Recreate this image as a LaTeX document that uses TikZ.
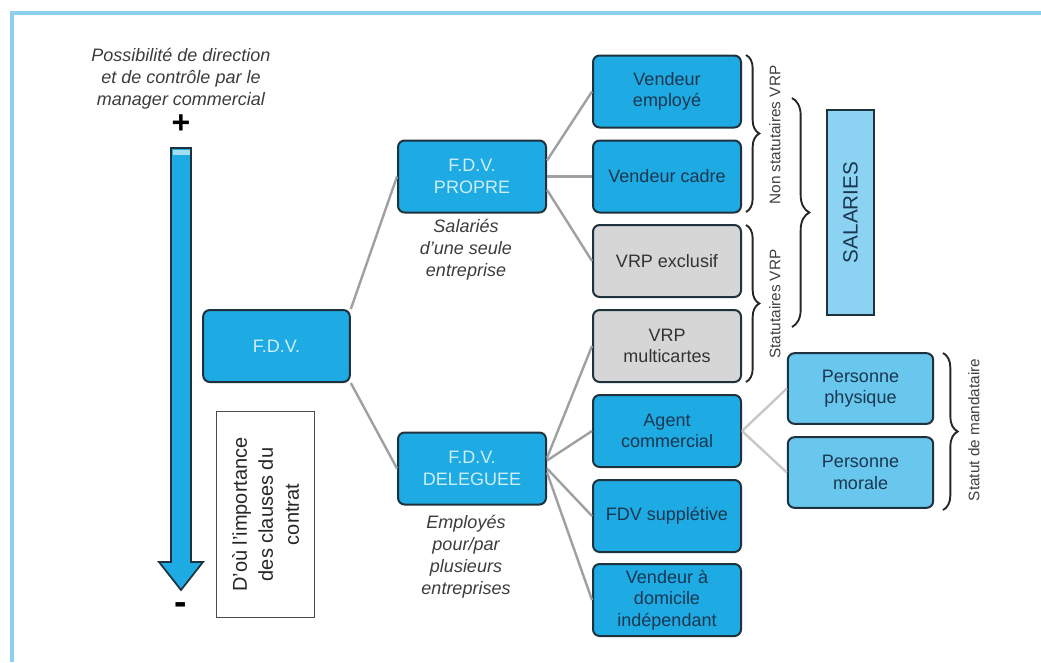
\documentclass[tikz,border=0pt]{standalone}
\usepackage{fontspec}
\setmainfont{Liberation Sans}
\usetikzlibrary{decorations.pathreplacing,calc}
\definecolor{bluebox}{RGB}{30,170,226}
\definecolor{lightbox}{RGB}{105,198,236}
\definecolor{graybox}{RGB}{214,214,214}
\definecolor{edgec}{RGB}{30,50,62}
\definecolor{conncol}{RGB}{160,160,160}
\definecolor{connlight}{RGB}{200,200,200}
\definecolor{salfill}{RGB}{140,210,242}
\definecolor{framec}{RGB}{140,207,238}
\definecolor{darktext}{RGB}{25,55,80}
\definecolor{lighttext}{RGB}{205,238,250}
\definecolor{itcol}{RGB}{60,60,60}
\tikzset{
  base/.style={draw=edgec, line width=1.5pt, rounded corners=5pt, minimum width=111pt, minimum height=54pt, inner sep=0pt, align=center, font=\fontsize{13.5}{16}\selectfont},
  fdvbox/.style={base, fill=bluebox, text=lighttext},
  bluenode/.style={base, fill=bluebox, text=darktext},
  greynode/.style={base, fill=graybox, text=black!80},
  persnode/.style={base, fill=lightbox, text=darktext, minimum width=109pt, minimum height=53pt},
  conn/.style={draw=conncol, line width=1.8pt},
  connl/.style={draw=connlight, line width=1.8pt},
  itlabel/.style={align=center, text=itcol, font=\fontsize{13.5}{16.5}\selectfont\itshape},
  brlabel/.style={rotate=90, text=black!75, font=\fontsize{11.5}{13}\selectfont},
  bracestyle/.style={draw=black!85, line width=1.4pt, decorate, decoration={brace, amplitude=#1}},
}
\begin{document}
\begin{tikzpicture}[x=0.75pt, y=-0.75pt]
\useasboundingbox (0,0) rectangle (1041,662);
\fill[white] (0,0) rectangle (1041,662);
% frame
\draw[draw=framec, line width=3pt] (10,13) -- (1041,13);
\draw[draw=framec, line width=3pt] (12,12) -- (12,662);

% top label and arrow
\node[itlabel] (toptext) at (181,79) {Possibilité de direction\\et de contrôle par le\\manager commercial};
\node[font=\fontsize{24}{24}\selectfont\bfseries, inner sep=0pt] (plus) at (181,124) {+};
\draw[draw=edgec, line width=1.3pt, fill=bluebox] (171,148) -- (191,148) -- (191,562) -- (203,562) -- (181,590) -- (159,562) -- (171,562) -- cycle;
\fill[white, opacity=0.6] (172.5,150) rectangle (189.5,155);
\node[font=\fontsize{28}{28}\selectfont\bfseries, inner sep=0pt] (minus) at (181,609) {-};

% nodes
\node[fdvbox, minimum width=110pt] (fdv) at (276.5,346) {F.D.V.};
\node[draw=black!70, line width=0.8pt, minimum width=74pt, minimum height=154pt, inner sep=0pt] (note) at (265.5,514.5) {};
\node[rotate=90, align=center, text=black!85, font=\fontsize{15}{19.5}\selectfont] (notetext) at (note.center) {D'où l'importance\\des clauses du\\contrat};

\node[fdvbox] (propre) at (472,176.5) {F.D.V.\\PROPRE};
\node[fdvbox] (deleguee) at (472,468.5) {F.D.V.\\DELEGUEE};
\node[itlabel] (proptext) at (466,250) {Salariés\\d'une seule\\entreprise};
\node[itlabel] (deltext) at (466,557) {Employés\\pour/par\\plusieurs\\entreprises};

\node[bluenode] (employe) at (667,91.5) {Vendeur\\employé};
\node[bluenode] (cadre) at (667,176.5) {Vendeur cadre};
\node[greynode] (exclusif) at (667,261) {VRP exclusif};
\node[greynode] (multi) at (667,346) {VRP\\multicartes};
\node[bluenode] (agent) at (667,431) {Agent\\commercial};
\node[bluenode] (suppl) at (667,516) {FDV supplétive};
\node[bluenode] (domicile) at (667,600) {Vendeur à\\domicile\\indépendant};

\node[persnode] (physique) at (860.5,388.5) {Personne\\physique};
\node[persnode] (morale) at (860.5,472.5) {Personne\\morale};

\node[draw=edgec, line width=1.2pt, fill=salfill, minimum width=35pt, minimum height=154pt, inner sep=0pt] (sal) at (850.5,212.5) {};
\node[rotate=90, text=darktext, font=\fontsize{15.5}{18}\selectfont] (saltext) at (sal.center) {SALARIES};

% connectors
\draw[conn] (fdv.north east) -- (propre.west);
\draw[conn] (fdv.south east) -- (deleguee.west);
\draw[conn] ([yshift=12pt]propre.east) -- (employe.west);
\draw[conn] (propre.east) -- (cadre.west);
\draw[conn] ([yshift=-10pt]propre.east) -- (exclusif.west);
\draw[conn] ([yshift=8pt]deleguee.east) -- (multi.west);
\draw[conn] ([yshift=6pt]deleguee.east) -- (agent.west);
\draw[conn] (deleguee.east) -- (suppl.west);
\draw[conn] ([yshift=-3pt]deleguee.east) -- (domicile.west);
\draw[connl] (agent.east) -- (physique.west);
\draw[connl] (agent.east) -- (morale.west);

% braces
\coordinate (b1a) at (746,55);
\coordinate (b1b) at (746,212);
\coordinate (b2a) at (746,225);
\coordinate (b2b) at (746,382);
\coordinate (b3a) at (792,98);
\coordinate (b3b) at (792,327);
\coordinate (b4a) at (943,353);
\coordinate (b4b) at (943,510);
\draw[bracestyle=10pt] (b1a) -- (b1b);
\draw[bracestyle=10pt] (b2a) -- (b2b);
\draw[bracestyle=13pt] (b3a) -- (b3b);
\draw[bracestyle=11pt] (b4a) -- (b4b);
\node[brlabel] (nonstat) at (775,135) {Non statutaires VRP};
\node[brlabel] (stat) at (775,304) {Statutaires VRP};
\node[brlabel] (mand) at (974,430) {Statut de mandataire};
\end{tikzpicture}
\end{document}
